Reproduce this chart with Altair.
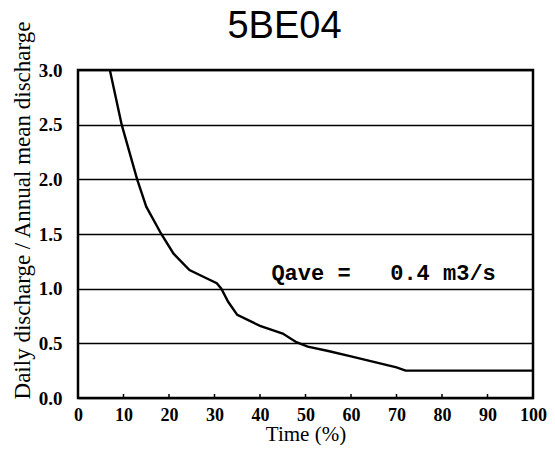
import altair as alt
import pandas as pd

time_pct = [7.0, 9.6, 13.0, 15.0, 18.3, 21.0, 24.5, 28.0, 30.5, 31.5, 33.0, 35.0, 40.0, 45.0, 48.0, 50.5, 55.0, 60.0, 65.0, 70.0, 72.0, 80.0, 90.0, 100.0]
ratio = [3.0, 2.5, 2.0, 1.75, 1.5, 1.32, 1.17, 1.1, 1.05, 1.0, 0.88, 0.76, 0.66, 0.59, 0.51, 0.47, 0.43, 0.38, 0.33, 0.28, 0.25, 0.25, 0.25, 0.25]
x_ticks = [0, 10, 20, 30, 40, 50, 60, 70, 80, 90, 100]
y_ticks = [0.0, 0.5, 1.0, 1.5, 2.0, 2.5, 3.0]
note_text = ["Qave\u00a0=\u00a0\u00a0\u00a00.4\u00a0m3/s"]
note_x = [42.5]
note_y = [1.08]

df = pd.DataFrame({"time": time_pct, "ratio": ratio})
ticks_df = pd.DataFrame({"t": x_ticks[1:-1]})
note_df = pd.DataFrame({"x": note_x, "y": note_y, "label": note_text})

W, H = 455, 328
serif = "Liberation Serif"

xscale = alt.Scale(domain=[0, 100], nice=False, zero=False)
yscale = alt.Scale(domain=[0, 3], nice=False)

line = alt.Chart(df).mark_line(color="black", strokeWidth=2.4, clip=True).encode(
    x=alt.X("time:Q", scale=xscale,
            axis=alt.Axis(values=x_ticks, title="Time (%)", grid=False, ticks=False, domain=False,
                          labelFont=serif, labelFontWeight="bold", labelFontSize=18, labelColor="black",
                          labelPadding=8, labelFlush=False,
                          titleFont=serif, titleFontWeight="normal", titleFontSize=21, titleColor="black",
                          titlePadding=-1)),
    y=alt.Y("ratio:Q", scale=yscale,
            axis=alt.Axis(values=y_ticks, format=".1f", title="Daily discharge / Annual mean discharge",
                          grid=True, gridColor="black", gridWidth=1.3, gridOpacity=1,
                          ticks=False, domain=False,
                          labelFont=serif, labelFontWeight="bold", labelFontSize=19, labelColor="black",
                          labelPadding=16,
                          titleFont=serif, titleFontWeight="normal", titleFontSize=23, titleColor="black",
                          titleX=-56, titleY=140, titleBaseline="middle", titleAlign="center", titleAngle=-90)),
)

tickmarks = alt.Chart(ticks_df).mark_rule(color="black", strokeWidth=1.5).encode(
    x=alt.X("t:Q", scale=xscale),
    y=alt.value(H),
    y2=alt.value(H - 4),
)

note = alt.Chart(note_df).mark_text(font="Liberation Mono", fontWeight="bold", fontSize=22,
                                     align="left", baseline="alphabetic", color="black").encode(
    x=alt.X("x:Q", scale=xscale),
    y=alt.Y("y:Q", scale=yscale),
    text="label:N",
)

chart = alt.layer(line, tickmarks, note).properties(
    width=W, height=H,
    background="white",
    title=alt.TitleParams("5BE04", font="Liberation Sans", fontSize=38, fontWeight="normal",
                          color="black", anchor="middle", dx=-21, offset=24, dy=50, frame="group"),
    autosize=alt.AutoSizeParams(type="none"),
    padding={"left": 70, "top": 62, "right": 14, "bottom": 47},
).configure_view(stroke="black", strokeWidth=2.5)

chart.save("out.html", embed_options={"renderer": "svg", "actions": False})
